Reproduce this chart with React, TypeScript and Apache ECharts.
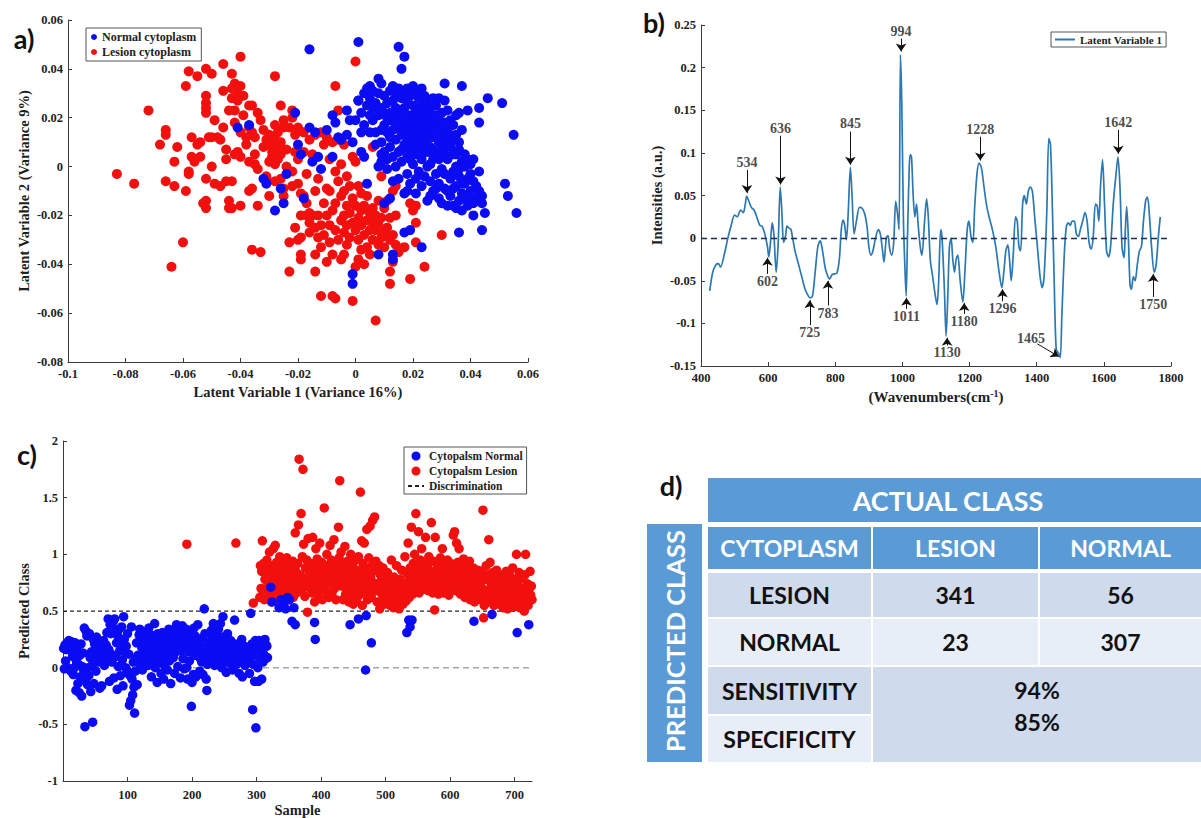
import React, { useEffect, useRef } from 'react';
import * as echarts from 'echarts';

// ---------- Panel a: PLS-DA scores (LV1 vs LV2) ----------
const normalCytoplasm: number[][] = [
  [-0.041,0.016],[-0.037,0.017],[-0.032,-0.005],[-0.031,-0.007],[-0.028,-0.018],[-0.026,-0.009],[-0.025,-0.015],[-0.024,-0.003],
  [-0.021,0.022],[-0.020,0.009],[-0.019,0.005],[-0.018,-0.013],[-0.016,0.048],[-0.016,0.016],[-0.015,0.002],[-0.014,0.014],
  [-0.013,0.004],[-0.012,-0.001],[-0.010,0.015],[-0.008,0.021],[-0.008,0.004],[-0.007,0.018],[-0.006,0.012],[-0.005,0.011],
  [-0.003,0.023],[-0.003,0.013],[-0.002,0.019],[-0.001,0.010],[-0.001,-0.048],[-0.001,-0.044],[0.000,0.019],[0.001,0.051],
  [0.001,0.027],[0.002,0.006],[0.003,0.004],[0.004,-0.007],[0.005,0.014],[0.007,0.009],[0.008,0.000],[0.008,-0.036],
  [0.009,0.005],[0.010,-0.015],[0.012,-0.013],[0.013,-0.036],[0.013,-0.038],[0.015,0.049],[0.016,0.040],[0.017,0.045],
  [0.017,-0.027],[0.019,-0.026],[0.023,-0.033],[0.036,-0.027],[0.044,-0.026],
  [0.001,0.027],[0.002,0.022],[0.003,0.030],[0.004,0.032],[0.004,0.025],[0.005,0.033],[0.005,0.028],[0.006,0.031],[0.006,0.019],
  [0.007,0.026],[0.007,0.014],[0.008,0.036],[0.008,0.030],[0.008,0.021],[0.009,0.034],[0.009,0.024],[0.009,0.010],[0.010,0.029],
  [0.010,0.017],[0.010,0.006],[0.011,0.026],[0.011,0.014],[0.011,0.003],[0.012,0.031],[0.012,0.022],[0.012,0.019],[0.012,0.008],
  [0.013,0.033],[0.013,0.027],[0.013,0.015],[0.013,0.004],[0.014,0.030],[0.014,0.024],[0.014,0.011],[0.014,0.000],[0.015,0.032],
  [0.015,0.021],[0.015,0.016],[0.015,0.006],[0.015,-0.005],[0.016,0.028],[0.016,0.019],[0.016,0.013],[0.016,0.002],[0.017,0.031],
  [0.017,0.024],[0.017,0.009],[0.017,-0.011],[0.018,0.032],[0.018,0.027],[0.018,0.017],[0.018,0.012],[0.018,0.004],[0.018,-0.003],
  [0.019,0.029],[0.019,0.021],[0.019,0.015],[0.019,0.007],[0.019,-0.007],[0.020,0.033],[0.020,0.025],[0.020,0.018],[0.020,0.010],
  [0.020,0.001],[0.021,0.030],[0.021,0.022],[0.021,0.014],[0.021,0.005],[0.021,-0.011],[0.022,0.028],[0.022,0.019],[0.022,0.012],
  [0.022,0.008],[0.022,-0.002],[0.023,0.032],[0.023,0.025],[0.023,0.016],[0.023,0.010],[0.023,0.003],[0.023,-0.008],[0.024,0.029],
  [0.024,0.021],[0.024,0.013],[0.024,0.006],[0.024,-0.004],[0.025,0.027],[0.025,0.018],[0.025,0.011],[0.025,0.000],[0.025,-0.014],
  [0.026,0.024],[0.026,0.015],[0.026,0.008],[0.026,-0.006],[0.027,0.028],[0.027,0.020],[0.027,0.012],[0.027,0.003],[0.027,-0.010],
  [0.028,0.025],[0.028,0.017],[0.028,0.005],[0.028,-0.003],[0.029,0.028],[0.029,0.019],[0.029,0.010],[0.029,-0.007],[0.029,-0.013],
  [0.030,0.022],[0.030,0.014],[0.030,0.007],[0.030,-0.001],[0.030,-0.015],[0.031,0.034],[0.031,0.018],[0.031,0.011],[0.031,-0.009],
  [0.032,0.023],[0.032,0.015],[0.032,0.003],[0.032,-0.016],[0.033,0.019],[0.033,0.008],[0.033,-0.005],[0.033,-0.012],[0.034,0.017],
  [0.034,0.011],[0.034,-0.002],[0.034,-0.016],[0.035,0.021],[0.035,0.013],[0.035,0.000],[0.035,-0.008],[0.035,-0.017],[0.036,0.022],
  [0.036,0.007],[0.036,-0.004],[0.036,-0.014],[0.037,0.033],[0.037,0.015],[0.037,0.002],[0.037,-0.011],[0.037,-0.018],[0.038,0.005],
  [0.038,-0.007],[0.038,-0.013],[0.039,0.023],[0.039,0.003],[0.039,-0.005],[0.039,-0.016],[0.040,0.001],[0.040,-0.010],[0.041,0.003],
  [0.041,-0.006],[0.041,-0.020],[0.042,-0.013],[0.042,-0.008],[0.043,0.024],[0.043,0.018],[0.043,-0.002],[0.043,-0.010],[0.044,-0.015],
  [0.044,-0.012],[0.045,-0.019],[0.046,0.028],[0.051,0.026],[0.052,-0.007],[0.053,-0.012],[0.055,0.013],[0.056,-0.019],
  [0.016,0.023],[0.017,0.016],[0.018,0.020],[0.019,0.011],[0.020,0.014],[0.021,0.018],[0.022,0.023],[0.022,0.015],[0.023,0.020],
  [0.024,0.017],[0.025,0.022],[0.025,0.006],[0.026,0.019],[0.026,0.001],[0.027,0.016],[0.027,0.007],[0.028,0.012],[0.028,0.021],
  [0.029,0.015],[0.029,0.003],[0.030,0.010],[0.031,0.005],[0.031,0.027],[0.032,0.009],[0.033,0.013],[0.034,0.005],[0.035,0.005],
  [0.036,0.010],[0.024,0.009],[0.021,0.010],[0.019,0.003],[0.020,0.006],[0.011,0.020],[0.013,0.019],[0.016,0.007],[0.014,0.016],
  [0.012,0.012],[0.010,0.022],[0.009,0.015],[0.006,0.024],[0.005,0.021],[0.003,0.017],[0.002,0.014],[0.026,-0.012],[0.028,-0.009],
  [0.031,-0.003],[0.032,-0.010],[0.034,-0.009],[0.036,-0.001],[0.038,0.000],[0.040,-0.003],[0.041,-0.015],[0.039,-0.013],[0.037,-0.007],
  [0.021,-0.005],[0.018,-0.010],[0.013,-0.006],[0.011,-0.001],[0.009,0.002]
];

const lesionCytoplasm: number[][] = [
  [-0.083,-0.003],[-0.077,-0.007],[-0.072,0.023],[-0.068,0.009],[-0.066,0.015],[-0.066,0.013],[-0.066,-0.006],[-0.064,-0.041],
  [-0.063,-0.008],[-0.063,0.002],[-0.062,0.008],[-0.060,-0.031],[-0.059,0.033],[-0.059,-0.010],[-0.058,0.039],[-0.058,-0.003],
  [-0.058,-0.002],[-0.057,0.012],[-0.057,0.004],[-0.056,0.002],[-0.055,0.037],[-0.055,0.009],[-0.054,0.010],[-0.054,0.004],
  [-0.053,-0.015],[-0.052,0.040],[-0.052,0.029],[-0.052,0.026],[-0.052,0.024],[-0.052,0.022],[-0.052,-0.005],[-0.052,-0.014],
  [-0.052,-0.017],[-0.051,0.012],[-0.050,0.038],[-0.050,0.012],[-0.050,0.000],[-0.049,-0.007],[-0.049,0.019],[-0.048,0.012],
  [-0.047,-0.008],[-0.047,0.011],[-0.046,0.042],[-0.046,0.031],[-0.046,0.016],[-0.045,0.003],[-0.045,-0.006],[-0.045,0.007],
  [-0.044,-0.014],[-0.044,-0.017],[-0.044,0.023],[-0.043,0.028],[-0.043,0.032],[-0.043,0.038],[-0.043,-0.006],[-0.043,-0.017],
  [-0.042,0.005],[-0.042,0.018],[-0.042,0.023],[-0.042,0.034],[-0.041,0.030],[-0.041,0.027],[-0.041,0.006],[-0.040,0.045],
  [-0.040,0.033],[-0.040,0.004],[-0.040,0.014],[-0.040,-0.016],[-0.039,0.021],[-0.039,0.029],[-0.038,0.012],[-0.038,0.009],
  [-0.037,0.025],[-0.037,0.016],[-0.037,0.002],[-0.037,-0.010],[-0.036,0.025],[-0.036,0.014],[-0.036,-0.009],[-0.036,-0.034],
  [-0.035,0.005],[-0.035,0.001],[-0.035,0.012],[-0.034,0.022],[-0.034,-0.016],[-0.034,-0.001],[-0.033,0.019],[-0.033,-0.035],
  [-0.032,0.015],[-0.032,0.008],[-0.031,0.011],[-0.031,-0.005],[-0.031,-0.004],[-0.030,0.009],[-0.030,0.002],[-0.030,0.013],
  [-0.030,-0.012],[-0.029,0.006],[-0.029,0.004],[-0.028,0.037],[-0.028,0.017],[-0.028,0.006],[-0.028,0.011],[-0.028,0.001],
  [-0.028,-0.006],[-0.027,0.008],[-0.027,0.014],[-0.027,0.003],[-0.026,0.010],[-0.026,0.005],[-0.026,0.025],[-0.026,-0.005],
  [-0.025,-0.009],[-0.025,-0.012],[-0.025,0.019],[-0.025,0.016],[-0.024,0.007],[-0.024,0.000],[-0.023,0.016],[-0.023,-0.031],
  [-0.023,-0.043],[-0.022,-0.008],[-0.022,0.023],[-0.022,0.020],[-0.022,-0.002],[-0.021,0.013],[-0.021,0.006],[-0.021,-0.025],
  [-0.020,-0.030],[-0.020,0.003],[-0.020,0.016],[-0.020,-0.007],[-0.019,-0.011],[-0.019,-0.036],[-0.019,-0.038],[-0.019,-0.020],
  [-0.019,-0.029],[-0.018,0.006],[-0.018,-0.012],[-0.018,0.014],[-0.017,-0.020],[-0.017,-0.003],[-0.017,-0.015],[-0.016,0.011],
  [-0.016,-0.019],[-0.016,-0.023],[-0.016,-0.027],[-0.015,0.005],[-0.015,-0.020],[-0.014,-0.025],[-0.014,-0.010],[-0.014,0.013],
  [-0.014,0.004],[-0.014,-0.036],[-0.014,-0.043],[-0.013,-0.020],[-0.013,-0.029],[-0.013,-0.005],[-0.012,-0.024],[-0.012,0.014],
  [-0.012,-0.053],[-0.012,-0.033],[-0.011,-0.015],[-0.011,0.009],[-0.011,-0.028],[-0.010,-0.039],[-0.010,-0.020],[-0.010,-0.009],
  [-0.010,0.012],[-0.009,-0.031],[-0.009,-0.024],[-0.009,-0.010],[-0.009,0.003],[-0.008,0.010],[-0.008,-0.036],[-0.008,-0.053],
  [-0.008,-0.018],[-0.007,-0.054],[-0.007,0.033],[-0.007,-0.026],[-0.007,-0.002],[-0.007,-0.015],[-0.006,0.011],[-0.006,-0.030],
  [-0.006,0.023],[-0.006,-0.006],[-0.005,-0.022],[-0.005,-0.012],[-0.005,0.001],[-0.005,-0.038],[-0.004,-0.036],[-0.004,-0.020],
  [-0.004,-0.027],[-0.004,0.009],[-0.004,-0.010],[-0.003,-0.016],[-0.003,-0.024],[-0.003,-0.032],[-0.003,-0.004],[-0.002,-0.019],
  [-0.002,-0.008],[-0.002,-0.029],[-0.001,-0.055],[-0.001,-0.023],[-0.001,-0.013],[-0.001,0.004],[0.000,0.043],[0.000,-0.041],
  [0.000,-0.026],[0.000,-0.016],[0.000,0.002],[0.001,-0.030],[0.001,-0.038],[0.001,-0.021],[0.001,-0.008],[0.002,-0.034],
  [0.002,-0.018],[0.002,-0.024],[0.002,-0.011],[0.003,-0.040],[0.003,-0.028],[0.003,-0.016],[0.004,-0.022],[0.004,-0.033],
  [0.004,-0.012],[0.005,-0.026],[0.005,-0.036],[0.005,-0.019],[0.006,-0.030],[0.006,-0.023],[0.006,-0.017],[0.006,0.008],
  [0.007,-0.063],[0.007,-0.026],[0.007,-0.020],[0.008,-0.032],[0.008,-0.024],[0.008,-0.014],[0.009,-0.029],[0.009,-0.021],
  [0.009,-0.004],[0.010,-0.027],[0.010,-0.017],[0.010,-0.033],[0.011,-0.025],[0.011,-0.014],[0.012,-0.043],[0.012,-0.048],
  [0.012,-0.030],[0.012,-0.021],[0.013,-0.039],[0.013,-0.028],[0.013,-0.010],[0.014,-0.032],[0.014,-0.020],[0.014,-0.008],
  [0.015,-0.035],[0.017,-0.033],[0.019,-0.015],[0.019,-0.046],[0.020,-0.018],[0.021,-0.023],[0.021,-0.031],[0.021,-0.016],
  [0.024,-0.041],[0.030,-0.028]
];

// ---------- Panel b: LV1 loadings spectrum [wavenumber, intensity] ----------
const lv1Spectrum: number[][] = [
  [426,-0.062],[435,-0.040],[445,-0.031],[452,-0.030],[458,-0.034],[470,-0.018],[480,0.000],[490,0.015],[500,0.027],[508,0.025],
  [518,0.033],[526,0.030],[532,0.040],[536,0.049],[543,0.043],[550,0.036],[558,0.033],[566,0.025],[575,0.015],[582,0.014],
  [590,0.005],[598,-0.010],[602,-0.022],[607,-0.005],[612,0.018],[617,0.005],[624,-0.040],[630,-0.005],[636,0.060],[641,0.030],
  [646,-0.005],[652,0.003],[656,0.014],[662,0.012],[668,0.010],[673,0.000],[680,-0.015],[690,-0.030],[700,-0.045],[710,-0.060],
  [720,-0.068],[725,-0.070],[732,-0.068],[740,-0.040],[748,-0.010],[755,-0.003],[762,-0.015],[770,-0.035],[778,-0.045],[783,-0.048],
  [790,-0.043],[798,-0.042],[805,-0.041],[812,-0.025],[818,0.010],[823,0.021],[828,0.015],[833,-0.002],[838,0.025],[845,0.083],
  [850,0.050],[856,0.005],[863,0.020],[872,0.036],[880,0.035],[888,0.028],[895,0.012],[900,-0.010],[906,-0.020],[912,-0.015],
  [920,0.000],[928,0.010],[934,0.005],[940,-0.012],[945,-0.028],[952,0.000],[957,0.003],[962,-0.012],[968,-0.020],[974,-0.005],
  [980,0.043],[985,0.030],[990,0.010],[994,0.215],[998,0.160],[1003,0.020],[1007,-0.030],[1011,-0.068],[1015,0.000],[1020,0.080],
  [1023,0.098],[1027,0.095],[1032,0.050],[1037,0.025],[1042,0.040],[1047,0.015],[1053,-0.010],[1058,-0.020],[1066,0.020],[1072,0.046],
  [1077,0.025],[1083,-0.025],[1090,-0.045],[1097,-0.065],[1103,-0.078],[1108,-0.050],[1114,0.010],[1118,0.000],[1125,-0.060],[1130,-0.115],
  [1135,-0.070],[1140,-0.010],[1145,0.000],[1150,-0.025],[1155,-0.040],[1160,-0.025],[1165,-0.020],[1172,-0.050],[1180,-0.075],[1186,-0.040],
  [1193,0.010],[1198,0.020],[1205,0.000],[1210,-0.005],[1215,0.035],[1222,0.075],[1228,0.088],[1235,0.083],[1243,0.060],[1250,0.040],
  [1258,0.025],[1268,0.010],[1278,-0.010],[1288,-0.040],[1296,-0.058],[1302,-0.040],[1308,-0.015],[1314,-0.008],[1319,-0.025],[1324,-0.050],
  [1330,-0.020],[1337,0.025],[1342,0.020],[1347,-0.010],[1352,-0.015],[1358,0.040],[1363,0.050],[1369,0.040],[1375,0.055],[1381,0.060],
  [1387,0.055],[1395,0.020],[1402,-0.010],[1410,-0.045],[1416,-0.058],[1422,-0.045],[1430,0.030],[1436,0.117],[1441,0.110],[1447,0.030],
  [1452,-0.050],[1458,-0.130],[1465,-0.135],[1470,-0.140],[1475,-0.090],[1482,-0.020],[1488,0.013],[1494,0.018],[1500,0.015],[1506,0.020],
  [1512,0.020],[1518,0.005],[1524,0.002],[1530,0.010],[1537,0.020],[1544,0.030],[1550,0.020],[1556,-0.005],[1562,-0.013],[1568,0.000],
  [1575,0.040],[1580,0.038],[1585,0.020],[1590,0.060],[1596,0.092],[1602,0.040],[1608,-0.015],[1614,-0.022],[1620,-0.010],[1628,0.040],
  [1635,0.070],[1642,0.095],[1648,0.060],[1654,-0.010],[1660,-0.023],[1664,0.010],[1668,0.037],[1673,0.000],[1678,-0.055],[1682,-0.060],
  [1688,-0.045],[1693,-0.050],[1700,-0.030],[1706,-0.015],[1712,-0.010],[1718,0.020],[1725,0.045],[1730,0.048],[1736,0.025],[1742,-0.010],
  [1750,-0.040],[1756,-0.030],[1762,0.000],[1768,0.025]
];

// peak annotations: label, label position, arrow start, arrow end (data coordinates)
const peakLabels = ['534','636','845','994','1228','1642','602','725','783','1011','1130','1180','1296','1750','1465'];
const peakTextAt: number[][] = [
  [537,0.089],[637,0.129],[845,0.134],[996,0.242],[1232,0.127],[1643,0.136],[598,-0.051],[724,-0.111],[778,-0.088],
  [1012,-0.092],[1133,-0.134],[1184,-0.098],[1298,-0.083],[1747,-0.078],[1383,-0.118]
];
const peakArrowFrom: number[][] = [
  [537,0.080],[637,0.120],[845,0.125],[996,0.234],[1232,0.119],[1643,0.127],[598,-0.042],[724,-0.102],[778,-0.079],
  [1012,-0.083],[1133,-0.126],[1184,-0.089],[1298,-0.074],[1747,-0.069],[1402,-0.124]
];
const peakArrowTo: number[][] = [
  [537,0.053],[637,0.063],[845,0.086],[996,0.219],[1232,0.091],[1643,0.099],[598,-0.023],[724,-0.073],[778,-0.050],
  [1012,-0.070],[1133,-0.117],[1184,-0.076],[1298,-0.060],[1747,-0.042],[1466,-0.139]
];

// ---------- Panel c: predicted class per sample ----------
const normalPredStart = 1;
const normalPred: number[] = [
  0.17,-0.01,0.2,0.06,0.16,0.22,0.0,0.18,0.24,0.2,0.19,-0.03,0.23,0.14,0.1,-0.06,0.21,0.0,0.22,-0.2,
  0.05,0.15,-0.14,0.03,-0.22,0.11,-0.08,0.21,-0.25,0.01,0.13,-0.02,0.35,-0.52,-0.12,0.32,0.28,-0.15,0.0,-0.07,
  0.3,0.09,-0.21,0.14,0.02,-0.48,0.25,-0.14,0.21,0.08,-0.03,0.27,0.17,0.05,0.12,0.23,-0.18,0.15,0.19,-0.16,
  0.08,0.1,0.24,0.02,0.14,0.06,0.2,0.31,0.09,0.43,0.16,-0.12,0.38,0.3,0.12,0.05,0.35,0.41,-0.09,0.43,
  0.32,0.1,0.22,-0.19,0.28,0.01,0.34,0.15,-0.07,0.2,0.36,0.07,-0.16,0.45,0.25,0.14,0.0,0.19,-0.02,0.3,
  -0.05,0.12,-0.33,-0.07,-0.29,0.36,-0.1,-0.24,0.05,-0.17,-0.4,-0.03,0.08,0.22,-0.15,0.11,0.07,0.29,0.34,0.0,
  0.25,0.18,-0.02,0.31,0.13,0.06,0.23,0.2,0.09,0.14,0.27,0.02,0.35,0.24,0.1,0.29,-0.08,0.19,0.06,0.26,
  0.13,0.39,0.0,0.22,0.15,-0.13,0.3,0.05,0.2,0.11,0.25,-0.05,0.08,0.31,0.17,-0.1,0.02,0.27,0.12,0.07,
  0.21,-0.02,0.16,0.34,0.06,0.24,-0.14,0.18,0.11,0.29,0.09,0.33,-0.05,0.26,0.14,0.38,0.2,0.01,0.35,0.28,
  0.22,-0.09,0.31,0.15,0.37,0.08,0.24,-0.01,0.32,0.19,0.34,0.0,-0.1,0.27,0.14,0.06,0.3,0.22,-0.34,-0.13,
  0.18,-0.06,0.35,0.11,0.28,-0.08,0.16,0.24,0.38,0.12,0.2,-0.03,0.08,0.15,0.05,0.26,-0.06,0.1,0.52,0.3,
  0.18,-0.1,-0.2,0.03,0.22,0.09,0.16,0.13,0.06,0.33,0.27,0.12,0.39,0.2,0.02,0.3,0.08,0.25,0.15,0.1,
  0.34,0.05,0.21,0.39,0.14,0.0,0.27,0.45,0.18,0.07,0.23,0.11,-0.04,0.16,0.3,0.09,0.19,0.04,0.13,0.24,
  0.08,0.17,-0.02,0.12,0.06,0.42,0.21,0.15,0.03,0.1,0.2,0.14,-0.05,0.18,0.08,0.11,0.25,-0.08,0.13,0.06,
  0.19,0.02,0.16,0.09,0.12,0.04,0.15,0.07,-0.05,0.18,0.48,0.1,0.21,-0.37,0.03,0.14,-0.12,0.24,-0.53,0.19,
  0.2,0.0,-0.12,0.24,0.08,0.15,0.17,-0.1,0.22,0.05,0.12,0.19,0.25,0.08,0.2,0.19,0.09
];
const normalPredLate: number[][] = [
  [322,0.71],[324,0.58],[335,0.53],[338,0.6],[342,0.55],[345,0.52],[348,0.62],[351,0.6],[355,0.41],[358,0.53],[360,0.38],
  [390,0.4],[391,0.25],[445,0.38],[458,0.43],[469,-0.02],[470,0.46],[478,0.22],[533,0.31],[536,0.42],[538,0.36],[541,0.42],
  [637,0.41],[665,0.47],[704,0.31],[722,0.38]
];
const lesionPredEarly: number[][] = [[192,1.09],[268,1.1],[295,0.57]];
const lesionPredStart = 305;
const lesionPred: number[] = [
  0.62,0.9,0.7,0.85,1.12,0.66,0.92,0.6,0.78,0.88,0.7,0.95,0.63,0.82,0.75,1.02,0.68,0.9,0.58,0.8,
  0.72,1.05,0.64,0.86,1.08,0.7,0.93,0.6,0.77,0.84,0.66,0.98,0.73,0.62,0.88,0.8,0.69,0.95,0.75,0.64,
  0.86,0.72,0.97,0.68,0.82,0.6,0.9,0.76,0.65,0.88,0.73,0.94,0.62,0.8,0.7,1.19,0.85,0.66,0.78,0.92,
  1.26,1.84,0.74,0.82,1.36,0.68,0.98,1.75,1.09,0.79,0.63,0.88,0.72,0.95,0.49,1.14,0.77,0.85,0.7,0.92,
  0.8,0.66,1.15,0.75,0.9,0.58,0.83,1.05,0.72,0.96,0.64,0.87,0.78,1.1,0.7,0.82,0.93,0.6,0.76,0.89,
  1.41,0.73,0.84,0.67,1.0,0.79,0.9,0.62,0.81,1.08,0.74,0.95,0.66,0.86,0.77,1.13,0.7,0.92,0.6,0.83,
  0.8,0.75,1.24,0.97,1.65,0.88,1.02,0.72,0.8,0.6,0.91,0.76,1.07,0.65,0.85,0.78,0.94,0.7,0.58,0.87,
  0.74,1.0,0.63,0.82,0.9,0.56,0.79,0.68,0.95,0.72,0.6,0.86,0.76,0.98,0.64,0.83,1.55,0.7,1.12,0.55,
  0.92,0.78,1.1,0.66,0.88,0.73,1.22,0.6,0.84,0.97,0.7,1.25,0.8,0.62,0.9,1.3,0.75,0.86,1.33,0.68,
  0.94,0.74,0.58,0.85,0.71,0.9,0.52,0.82,0.66,0.78,0.6,0.88,0.7,0.56,0.8,0.64,0.75,0.58,0.84,0.69,
  0.62,0.77,0.55,0.72,0.95,0.6,0.68,0.53,0.8,0.65,0.58,0.74,0.9,0.57,0.7,0.63,0.52,0.78,0.66,0.6,
  0.86,0.69,0.56,0.75,0.64,0.98,0.72,0.59,0.83,0.67,1.1,0.76,0.62,0.88,0.7,1.24,0.8,0.65,0.92,0.74,
  1.0,0.84,1.36,0.71,0.9,0.78,1.2,0.66,0.86,0.95,0.73,1.05,0.8,0.69,0.92,0.76,0.87,1.15,0.72,0.83,
  0.9,0.68,0.98,0.79,0.85,0.74,1.28,0.82,0.66,0.94,0.77,0.51,1.15,0.86,0.7,0.91,0.8,0.65,0.88,0.75,
  0.97,0.71,0.84,1.05,0.78,0.66,0.9,0.82,0.74,0.87,0.69,0.95,0.8,0.64,0.85,0.76,0.92,0.7,0.83,0.78,
  1.17,0.74,1.2,0.88,0.68,1.1,0.81,0.93,0.72,1.05,0.86,0.65,0.9,0.77,0.84,0.7,0.96,0.79,0.62,0.87,
  0.73,0.89,0.66,0.82,0.76,0.94,0.6,0.85,0.71,0.8,0.65,0.88,0.74,0.58,0.83,0.69,0.77,0.62,0.86,0.72,
  0.66,0.8,0.74,0.6,0.85,0.7,1.39,0.44,0.55,0.78,0.64,0.9,0.68,0.58,0.82,1.13,0.63,0.93,0.75,0.72,
  0.6,0.84,0.67,0.55,0.79,0.7,0.62,0.86,0.58,0.74,0.65,0.82,0.56,0.71,0.6,0.77,0.68,0.53,0.8,0.63,
  0.7,0.57,0.85,0.64,0.52,0.76,0.61,0.82,0.67,0.55,0.73,0.6,0.88,0.66,0.54,0.78,0.62,0.7,1.0,0.58,
  0.75,0.6,0.84,0.53,0.68,0.63,0.79,0.56,0.7,0.61,0.5,0.82,1.0,0.58,0.66,0.74,0.55,0.69,0.6,0.85,
  0.64,0.72,0.6
];
const discriminationLevel = 0.5;
const sampleCount = 727;

// ---------- Panel d: confusion table ----------
const tableTitle = 'ACTUAL CLASS';
const tableSideTitle = 'PREDICTED CLASS';
const tableHeader = ['CYTOPLASM', 'LESION', 'NORMAL'];
const tableRows = [['LESION', '341', '56'], ['NORMAL', '23', '307']];
const metricLabels = ['SENSITIVITY', 'SPECIFICITY'];
const metricValues = ['94%', '85%'];

const SERIF = '"Liberation Serif","Times New Roman",serif';
const SANS = 'Lato,"Open Sans",sans-serif';
const BLUE = '#0c0cf2';
const RED = '#f2100e';
const TBL_BLUE = '#5b9bd5';
const TBL_DARK = '#cfdbed';
const TBL_LIGHT = '#e8eef7';
const NAME_STYLE = { color: '#1e1e1e', fontFamily: SERIF, fontWeight: 'bold', fontSize: 14.5 };

function axisBase(extra: any) {
  return {
    axisLine: { show: true, onZero: false, lineStyle: { color: '#3a3a3a', width: 1 } },
    axisTick: { show: true, inside: true, length: 4, lineStyle: { color: '#3a3a3a' } },
    splitLine: { show: false },
    axisLabel: { color: '#1e1e1e', fontFamily: SERIF, fontWeight: 'bold', fontSize: 12.5, margin: 5 },
    nameLocation: 'middle',
    nameTextStyle: NAME_STYLE,
    ...extra,
  };
}

function buildTable(): any[] {
  const els: any[] = [];
  const colX = [708, 873, 1040];
  const colW = [163, 165, 161];
  const headerY = 527, headerH = 42;
  const rowY = [573, 619];
  const rowH = [44, 46];
  const metY = [667, 716];
  const metH = [47, 46];
  const txt = (text: string, x: number, y: number, color: string, size = 23, rotation = 0) => ({
    type: 'text', x, y, rotation,
    style: { text, fill: color, fontFamily: SANS, fontWeight: 'bold', fontSize: size, align: 'center', verticalAlign: 'middle' },
  });
  els.push({ type: 'rect', shape: { x: 708, y: 478, width: 493, height: 44 }, style: { fill: TBL_BLUE } });
  els.push(txt(tableTitle, 948, 500, '#ffffff', 27));
  els.push({ type: 'rect', shape: { x: 647, y: 524, width: 55, height: 238 }, style: { fill: TBL_BLUE } });
  els.push(txt(tableSideTitle, 675, 641, '#ffffff', 25.5, Math.PI / 2));
  tableHeader.forEach((h, i) => {
    els.push({ type: 'rect', shape: { x: colX[i], y: headerY, width: colW[i], height: headerH }, style: { fill: TBL_BLUE } });
    els.push(txt(h, colX[i] + colW[i] / 2, headerY + headerH / 2, '#ffffff'));
  });
  tableRows.forEach((row, r) => {
    const fill = r === 0 ? TBL_DARK : TBL_LIGHT;
    row.forEach((cell, i) => {
      els.push({ type: 'rect', shape: { x: colX[i], y: rowY[r], width: colW[i], height: rowH[r] }, style: { fill } });
      els.push(txt(cell, colX[i] + colW[i] / 2, rowY[r] + rowH[r] / 2, '#111111'));
    });
  });
  metricLabels.forEach((m, r) => {
    const fill = r === 0 ? TBL_DARK : TBL_LIGHT;
    els.push({ type: 'rect', shape: { x: colX[0], y: metY[r], width: colW[0], height: metH[r] }, style: { fill } });
    els.push(txt(m, colX[0] + colW[0] / 2, metY[r] + metH[r] / 2, '#111111'));
  });
  els.push({ type: 'rect', shape: { x: colX[1], y: metY[0], width: 1201 - colX[1], height: 95 }, style: { fill: TBL_DARK } });
  metricValues.forEach((v, r) => {
    els.push(txt(v, 1037, 690 + r * 32, '#111111'));
  });
  return els;
}

function panelLabel(text: string, x: number, y: number) {
  return {
    type: 'text', x, y,
    style: { text, fill: '#111', fontFamily: SANS, fontWeight: 'bold', fontSize: 27, align: 'center', verticalAlign: 'middle' },
  };
}

export default function App() {
  const ref = useRef<HTMLDivElement>(null);
  useEffect(() => {
    if (!ref.current) return;
    const chart = echarts.init(ref.current, undefined, { renderer: 'svg' });

    const normalC = normalPred.map((v, i) => [normalPredStart + i, v]).concat(normalPredLate);
    const lesionC = lesionPredEarly.concat(lesionPred.map((v, i) => [lesionPredStart + i, v]));

    const option: any = {
      animation: false,
      backgroundColor: '#ffffff',
      grid: [
        { left: 68, top: 20, width: 460, height: 342 },
        { left: 701, top: 25, width: 470, height: 341 },
        { left: 63, top: 441, width: 469, height: 342 },
      ],
      xAxis: [
        axisBase({ gridIndex: 0, type: 'value', min: -0.1, max: 0.06, interval: 0.02, name: 'Latent Variable 1 (Variance 16%)', nameGap: 22 }),
        axisBase({ gridIndex: 1, type: 'value', min: 400, max: 1800, interval: 200,
          axisLabel: { color: '#1e1e1e', fontFamily: SERIF, fontWeight: 'bold', fontSize: 12.5, margin: 5, formatter: (v: number) => String(v) },
          name: '(Wavenumbers(cm{sup|-1})', nameGap: 22,
          nameTextStyle: { ...NAME_STYLE, fontSize: 15,
            rich: { sup: { fontFamily: SERIF, fontWeight: 'bold', fontSize: 10, color: '#1e1e1e', padding: [0, 0, 8, 0] } } } }),
        axisBase({ gridIndex: 2, type: 'value', min: 0, max: sampleCount, interval: 100, name: 'Sample', nameGap: 19,
          axisLabel: { color: '#1e1e1e', fontFamily: SERIF, fontWeight: 'bold', fontSize: 12.5, margin: 7, showMinLabel: false, showMaxLabel: false,
            formatter: (v: number) => (v === 0 || v === sampleCount ? '' : String(v)) } }),
      ],
      yAxis: [
        axisBase({ gridIndex: 0, type: 'value', min: -0.08, max: 0.06, interval: 0.02, name: 'Latent Variable 2 (Variance 9%)', nameGap: 37 }),
        axisBase({ gridIndex: 1, type: 'value', min: -0.15, max: 0.25, interval: 0.05, name: 'Intensities (a.u.)', nameGap: 37 }),
        axisBase({ gridIndex: 2, type: 'value', min: -1, max: 2, interval: 0.5, name: 'Predicted Class', nameGap: 32 }),
      ],
      legend: [
        {
          data: [{ name: 'Normal cytoplasm', icon: 'circle' }, { name: 'Lesion cytoplasm', icon: 'circle' }],
          orient: 'vertical', left: 86, top: 28, itemWidth: 6, itemHeight: 6, itemGap: 3,
          padding: [3, 5, 3, 5], borderColor: '#555', borderWidth: 1, backgroundColor: '#fff',
          textStyle: { fontFamily: SERIF, fontWeight: 'bold', fontSize: 12, color: '#222' },
        },
        {
          data: [{ name: 'Latent Variable 1', itemStyle: { opacity: 0 } }],
          left: 1051, top: 32, itemWidth: 20, itemHeight: 8, padding: [2, 4, 2, 3],
          borderColor: '#555', borderWidth: 1, backgroundColor: '#fff',
          textStyle: { fontFamily: SERIF, fontWeight: 'bold', fontSize: 11, color: '#222' },
        },
        {
          data: [{ name: 'Cytopalsm Normal', icon: 'circle' }, { name: 'Cytopalsm Lesion', icon: 'circle' }, { name: 'Discrimination', itemStyle: { opacity: 0 } }],
          orient: 'vertical', left: 404, top: 447, itemWidth: 16, itemHeight: 9, itemGap: 3,
          padding: [3, 4, 2, 3], borderColor: '#555', borderWidth: 1, backgroundColor: '#fff',
          textStyle: { fontFamily: SERIF, fontWeight: 'bold', fontSize: 11.5, color: '#222' },
        },
      ],
      series: [
        // a
        { type: 'scatter', name: 'Lesion cytoplasm', xAxisIndex: 0, yAxisIndex: 0, data: lesionCytoplasm, symbolSize: 10, itemStyle: { color: RED, opacity: 1 }, z: 2 },
        { type: 'scatter', name: 'Normal cytoplasm', xAxisIndex: 0, yAxisIndex: 0, data: normalCytoplasm, symbolSize: 10, itemStyle: { color: BLUE, opacity: 1 }, z: 3 },
        // b
        {
          type: 'line', name: 'Latent Variable 1', xAxisIndex: 1, yAxisIndex: 1, data: lv1Spectrum,
          symbol: 'none', showSymbol: false, smooth: 0.3, lineStyle: { color: '#2c78b3', width: 1.7 }, itemStyle: { color: 'rgba(0,0,0,0)' },
          markLine: {
            silent: true, symbol: ['none', 'none'], label: { show: false },
            lineStyle: { color: '#1d2a58', type: [6, 4], width: 1.3 },
            data: [{ yAxis: 0 }],
          },
          z: 3,
        },
        {
          type: 'scatter', name: 'peaks', xAxisIndex: 1, yAxisIndex: 1, symbolSize: 0.1,
          itemStyle: { color: 'rgba(0,0,0,0)' },
          data: peakLabels.map((l, i) => ({ name: l, value: peakTextAt[i] })),
          label: { show: true, position: 'inside', formatter: '{b}', fontFamily: SERIF, fontWeight: 'bold', fontSize: 14, color: '#1a1a1a' },
          markLine: {
            silent: true, symbol: ['none', 'arrow'], symbolSize: 8, label: { show: false },
            lineStyle: { color: '#111', type: 'solid', width: 1 },
            itemStyle: { color: '#111' },
            data: peakLabels.map((_, i) => [{ coord: peakArrowFrom[i] }, { coord: peakArrowTo[i] }]),
          },
          z: 4,
        },
        // c
        {
          type: 'line', name: 'zero', xAxisIndex: 2, yAxisIndex: 2, data: [[0, 0], [sampleCount, 0]],
          symbol: 'none', lineStyle: { color: '#a8a8a8', type: [6, 4], width: 1.3 }, z: 1,
        },
        {
          type: 'line', name: 'Discrimination', xAxisIndex: 2, yAxisIndex: 2,
          data: [[0, discriminationLevel], [sampleCount, discriminationLevel]],
          symbol: 'none', lineStyle: { color: '#222', type: [4, 3], width: 1.3 }, itemStyle: { color: 'rgba(0,0,0,0)' }, z: 1,
        },
        { type: 'scatter', name: 'Cytopalsm Lesion', xAxisIndex: 2, yAxisIndex: 2, data: lesionC, symbolSize: 9.5, itemStyle: { color: RED, opacity: 1 }, z: 2 },
        { type: 'scatter', name: 'Cytopalsm Normal', xAxisIndex: 2, yAxisIndex: 2, data: normalC, symbolSize: 9.5, itemStyle: { color: BLUE, opacity: 1 }, z: 3 },
      ],
      graphic: [
        panelLabel('a)', 24, 38),
        panelLabel('b)', 654, 22),
        panelLabel('c)', 27, 454),
        panelLabel('d)', 671, 485),
        ...buildTable(),
      ],
    };
    chart.setOption(option);
    return () => chart.dispose();
  }, []);
  return <div ref={ref} style={{ position: 'absolute', left: 0, top: 0, width: 1201, height: 818 }} />;
}
